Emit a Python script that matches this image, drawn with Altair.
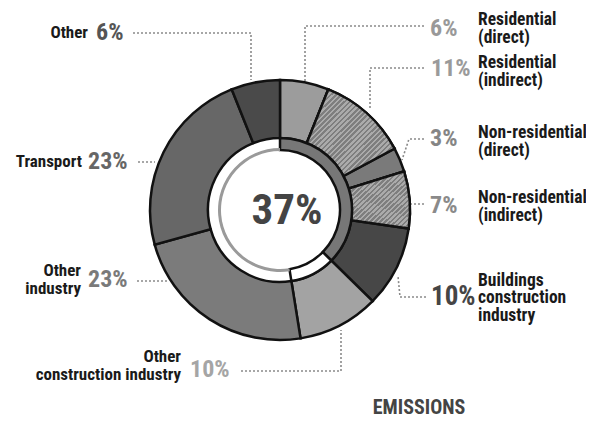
import math
import altair as alt
import pandas as pd

# ---- data ----
names = ["Residential (direct)", "Residential (indirect)", "Non-residential (direct)",
         "Non-residential (indirect)", "Buildings construction industry",
         "Other construction industry", "Other industry", "Transport", "Other"]
values = [6, 11, 3, 7, 10, 10, 23, 23, 6]
pct_labels = ["6%", "11%", "3%", "7%", "10%", "10%", "23%", "23%", "6%"]
label_texts = ["Residential\n(direct)", "Residential\n(indirect)", "Non-residential\n(direct)",
               "Non-residential\n(indirect)", "Buildings\nconstruction\nindustry",
               "Other\nconstruction industry", "Other\nindustry", "Transport", "Other"]
buildings_share = 37
center_text = "37%"
title_text = "EMISSIONS"

# ---- style / layout ----
fills = ["#9c9c9c", "#a6a6a6", "#7a7a7a", "#a6a6a6", "#474747",
         "#a3a3a3", "#7b7b7b", "#676767", "#4a4a4a"]
pct_colors = ["#999999", "#9a9a9a", "#858585", "#8a8a8a", "#454545",
              "#a5a5a5", "#7a7a7a", "#666666", "#555555"]
hatched = ["Residential (indirect)", "Non-residential (indirect)"]
# label anchor positions (image pixel coords)
pct_x = [430, 431, 430, 430, 431, 190, 88, 88, 96]
pct_y = [29, 69, 139, 206, 297, 370, 280, 162, 33]
name_x = [478, 478, 478, 478, 478, 181, 81, 82, 88]
name_cy = [29, 72, 142, 207, 298, 366, 280, 162, 33]
side = ["R", "R", "R", "R", "R", "L", "L", "L", "L"]
pct_size = [24, 24, 24, 24, 27, 24, 24, 24, 24]
# leader polylines (image pixel coords)
leaders = {
    "Residential (direct)": [(424, 26), (305, 26), (305, 82)],
    "Residential (indirect)": [(424, 68), (370, 68), (370, 108)],
    "Non-residential (direct)": [(424, 139), (409, 139), (402, 160)],
    "Non-residential (indirect)": [(424, 204), (410, 204)],
    "Buildings construction industry": [(426, 297), (400, 297), (398, 276)],
    "Other construction industry": [(241, 371), (341, 371), (341, 330)],
    "Other industry": [(137, 281), (168, 281)],
    "Transport": [(138, 162), (155, 162)],
    "Other": [(133, 33), (251, 33), (251, 80)],
}
CX, CY = 280, 210
R_OUT, R_IN = 130, 72
W, H = 578, 410
FONT = "Roboto Condensed, Liberation Sans Narrow, Roboto, sans-serif"
LH_R, LH_L = 17.5, 18

total = sum(values)
ends = pd.Series(values).cumsum()
ring = pd.DataFrame({"name": names, "value": values,
                     "start": ends - pd.Series(values), "end": ends})

theta_scale = alt.Scale(domain=[0, total], range=[0, 2 * math.pi])
xs = alt.Scale(domain=[8, 8 + W], range=[0, W])
ys = alt.Scale(domain=[8, 8 + H], range=[0, H])

base_arc = alt.Chart(ring).encode(
    theta=alt.Theta("start:Q", scale=theta_scale),
    theta2="end:Q",
    x=alt.value(CX - 8), y=alt.value(CY - 8),
)

outer = base_arc.mark_arc(innerRadius=R_IN, outerRadius=R_OUT, stroke="#111",
                          strokeWidth=2.5).encode(
    fill=alt.Fill("name:N", scale=alt.Scale(domain=names, range=fills), legend=None)
)


def stripes(n, c1, c2):
    stops = []
    for i in range(n):
        a = i / n
        b = (i + 0.5) / n
        c = (i + 1) / n
        stops += [alt.GradientStop(offset=a, color=c1), alt.GradientStop(offset=b, color=c1),
                  alt.GradientStop(offset=b, color=c2), alt.GradientStop(offset=c, color=c2)]
    return alt.Gradient(gradient="linear", stops=stops, x1=0, y1=0, x2=1, y2=1)


hatch1 = base_arc.transform_filter(alt.datum.name == hatched[0]).mark_arc(
    innerRadius=R_IN, outerRadius=R_OUT, stroke="#111", strokeWidth=2.5,
    fill=stripes(34, "#ababab", "#7e7e7e"))
hatch2 = base_arc.transform_filter(alt.datum.name == hatched[1]).mark_arc(
    innerRadius=R_IN, outerRadius=R_OUT, stroke="#111", strokeWidth=2.5,
    fill=stripes(24, "#ababab", "#7e7e7e"))

inner_df = pd.DataFrame({"kind": ["share", "gap", "rest"],
                         "start": [0, buildings_share, buildings_share + 10],
                         "end": [buildings_share, buildings_share + 10, total]})
inner_base = alt.Chart(inner_df).encode(
    theta=alt.Theta("start:Q", scale=theta_scale), theta2="end:Q",
    x=alt.value(CX - 8), y=alt.value(CY - 8))
inner_share = inner_base.transform_filter(alt.datum.kind == "share").mark_arc(
    innerRadius=60, outerRadius=R_IN, fill="#777777", stroke="#111", strokeWidth=2.5)
inner_gap = inner_base.transform_filter(alt.datum.kind == "gap").mark_arc(
    innerRadius=60, outerRadius=R_IN, fill="white", stroke="#111", strokeWidth=2.5)
inner_rest = inner_base.transform_filter(alt.datum.kind == "rest").mark_arc(
    innerRadius=59, outerRadius=62, fill="#9a9a9a")

center = alt.Chart(pd.DataFrame({"t": [center_text]})).mark_text(
    font=FONT, fontSize=43, fontWeight="bold", color="#444444", align="center",
    baseline="middle").encode(x=alt.value(287 - 8), y=alt.value(CY - 8 + 1), text="t:N")

# leaders
rows = []
for nm, pts in leaders.items():
    for i, (px, py) in enumerate(pts):
        rows.append({"name": nm, "i": i, "px": px, "py": py})
lead_df = pd.DataFrame(rows)
lead = alt.Chart(lead_df).mark_line(color="#8a8a8a", strokeWidth=1.6, strokeDash=[2, 2]).encode(
    x=alt.X("px:Q", scale=xs, axis=None), y=alt.Y("py:Q", scale=ys, axis=None),
    detail="name:N", order="i:Q")

first_y = []
for t, cy, sd in zip(label_texts, name_cy, side):
    n = t.count("\n")
    lh = LH_R if sd == "R" else LH_L
    first_y.append(cy - n * lh / 2)

lab = pd.DataFrame({"name": names, "pct": pct_labels, "txt": label_texts,
                    "px": pct_x, "py": pct_y, "nx": name_x, "ny": first_y, "side": side,
                    "psize": pct_size, "pcol": pct_colors})

pct_layers = []
for s in sorted(set(pct_size)):
    pct_layers.append(alt.Chart(lab).transform_filter(alt.datum.psize == s).mark_text(
        font=FONT, fontSize=s, fontWeight="bold", align="left", baseline="middle").encode(
        x=alt.X("px:Q", scale=xs, axis=None), y=alt.Y("py:Q", scale=ys, axis=None),
        text="pct:N", color=alt.Color("pcol:N", scale=None)))

names_r = alt.Chart(lab).transform_filter(alt.datum.side == "R").mark_text(
    font=FONT, fontSize=17.5, fontWeight="bold", align="left", baseline="middle",
    lineBreak="\n", lineHeight=LH_R, color="#1a1a1a").encode(
    x=alt.X("nx:Q", scale=xs, axis=None), y=alt.Y("ny:Q", scale=ys, axis=None), text="txt:N")
names_l = alt.Chart(lab).transform_filter(alt.datum.side == "L").mark_text(
    font=FONT, fontSize=17, fontWeight="bold", align="right", baseline="middle",
    lineBreak="\n", lineHeight=LH_L, color="#1a1a1a").encode(
    x=alt.X("nx:Q", scale=xs, axis=None), y=alt.Y("ny:Q", scale=ys, axis=None), text="txt:N")

title = alt.Chart(pd.DataFrame({"t": [title_text]})).mark_text(
    font=FONT, fontSize=20, fontWeight="bold", color="#444444", align="center",
    baseline="middle").encode(x=alt.value(419 - 8), y=alt.value(408 - 8), text="t:N")

chart = alt.layer(lead, outer, hatch1, hatch2, inner_share, inner_gap, inner_rest, center,
                  *pct_layers, names_r, names_l, title).properties(
    width=W, height=H, padding=0, autosize=alt.AutoSizeParams(type="none"),
    background="white"
).configure_view(stroke=None)

chart.save("out.html", embed_options={"renderer": "svg", "actions": False})
